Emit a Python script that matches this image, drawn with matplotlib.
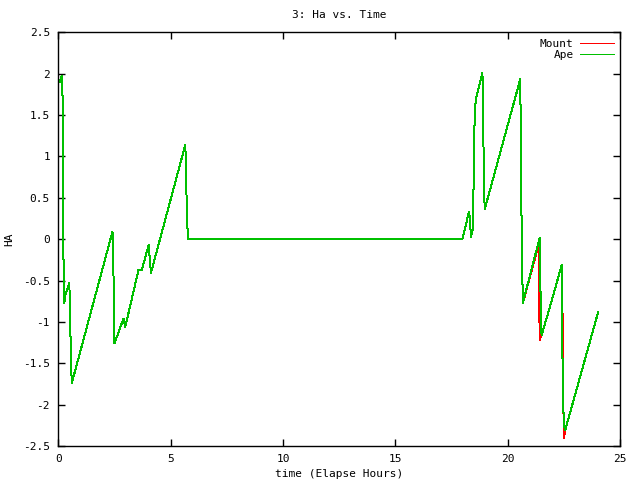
import matplotlib
matplotlib.use('Agg')
import matplotlib.pyplot as plt

# Ape series (green), breakpoints
ape_t = [0.07, 0.12, 0.18, 0.20, 0.22, 0.27, 0.30, 0.49, 0.52, 0.56, 0.60,
         2.41, 2.45, 2.47, 2.50, 2.90, 2.98, 3.57, 3.72, 4.02, 4.12, 5.65,
         5.68, 5.72, 5.77, 17.98, 18.27, 18.30, 18.36, 18.45, 18.47, 18.50,
         18.57, 18.87, 18.90, 18.93, 18.97, 20.55, 20.58, 20.62, 20.67,
         21.42, 21.44, 21.46, 21.50, 21.85, 22.40, 22.44, 22.49, 22.55, 24.02]
ape_ha = [1.90, 1.95, 1.97, 1.28, -0.09, -0.77, -0.69, -0.53, -0.84, -1.44, -1.74,
          0.09, -0.25, -0.92, -1.26, -0.96, -1.06, -0.37, -0.37, -0.07, -0.41, 1.14,
          0.88, 0.29, 0.0, 0.0, 0.33, 0.28, 0.03, 0.13, 0.54, 1.28,
          1.69, 2.01, 1.59, 0.76, 0.36, 1.93, 1.24, -0.13, -0.77,
          0.02, -0.27, -0.82, -1.16, -0.84, -0.31, -1.73, -2.23, -2.31, -0.88]

# Mount series (red), mostly under the green line
mount_t = [0.07, 0.12, 0.18, 0.20, 0.22, 0.27, 0.30, 0.49, 0.52, 0.56, 0.60,
           2.41, 2.45, 2.47, 2.50, 2.90, 2.98, 3.57, 3.72, 4.02, 4.12, 5.65,
           5.68, 5.72, 5.77, 17.98, 18.27, 18.30, 18.36, 18.45, 18.47, 18.50,
           18.57, 18.87, 18.90, 18.93, 18.97, 20.55, 20.58, 20.62, 20.67,
           21.38, 21.39, 21.42, 21.46, 21.50, 21.85, 22.40, 22.42, 22.43, 22.46,
           22.50, 22.55, 24.02]
mount_ha = [1.90, 1.95, 1.97, 1.28, -0.09, -0.77, -0.69, -0.53, -0.84, -1.44, -1.74,
            0.09, -0.25, -0.92, -1.26, -0.96, -1.06, -0.37, -0.37, -0.07, -0.41, 1.14,
            0.88, 0.29, 0.0, 0.0, 0.33, 0.28, 0.03, 0.13, 0.54, 1.28,
            1.69, 2.01, 1.59, 0.76, 0.36, 1.93, 1.24, -0.13, -0.77,
            -0.06, -0.65, -1.22, -1.18, -1.16, -0.84, -0.31, -0.80, -0.82, -1.90,
            -2.40, -2.31, -0.88]

x_ticks = [0, 5, 10, 15, 20, 25]
y_ticks = [-2.5, -2, -1.5, -1, -0.5, 0, 0.5, 1, 1.5, 2, 2.5]
y_labels = ['-2.5', '-2', '-1.5', '-1', '-0.5', '0', '0.5', '1', '1.5', '2', '2.5']

plt.rcParams['font.family'] = ['DejaVu Sans Mono']
plt.rcParams['font.size'] = 8

fig = plt.figure(figsize=(6.4, 4.8), dpi=100)
ax = fig.add_axes([0.0911, 0.0708, 0.878, 0.862])

ax.plot(mount_t, mount_ha, color='#ff0000', lw=0.72, label='Mount', antialiased=False)
ax.plot(ape_t, ape_ha, color='#00c000', lw=0.72, label='Ape', antialiased=False)

ax.set_xlim(0, 25)
ax.set_ylim(-2.5, 2.5)
ax.set_xticks(x_ticks)
ax.set_xticklabels([str(v) for v in x_ticks])
ax.set_yticks(y_ticks)
ax.set_yticklabels(y_labels)
ax.tick_params(direction='in', length=5, width=1, top=True, right=True, pad=6)
for s in ax.spines.values():
    s.set_linewidth(1)

ax.set_title('3: Ha vs. Time', fontsize=8, pad=10)
ax.set_xlabel('time (Elapse Hours)', labelpad=3)
ax.set_ylabel('HA', rotation=90, labelpad=6)

leg = ax.legend(loc='upper right', frameon=False, markerfirst=False,
                handlelength=3, borderaxespad=0.2, labelspacing=0.1,
                handletextpad=0.6)
for t in leg.get_texts():
    t.set_ha('right')

fig.savefig('out.png', dpi=100)
